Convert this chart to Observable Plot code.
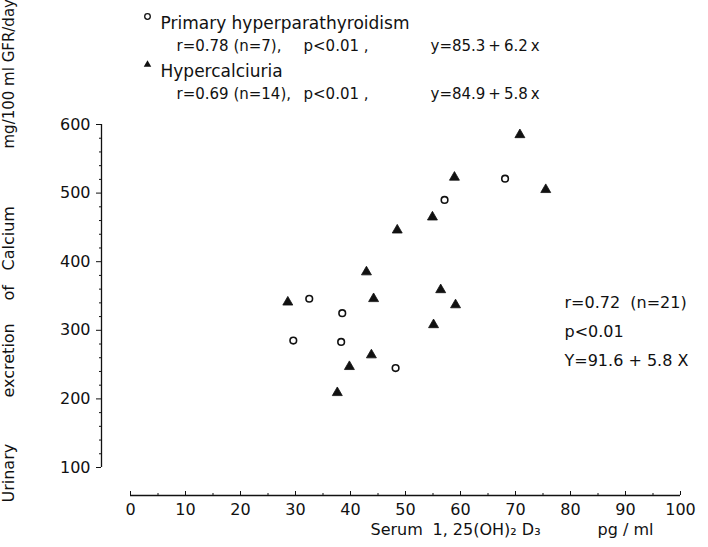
<!DOCTYPE html>
<html><head><meta charset="utf-8">
<script src="https://cdn.jsdelivr.net/npm/d3@7"></script>
<script src="https://cdn.jsdelivr.net/npm/@observablehq/plot@0.6"></script>
<style>body{margin:0;background:#fff}</style>
</head><body><div id="chart"></div>
<script>
// Primary hyperparathyroidism (open circles)
const hpX = [32.5, 29.6, 38.5, 38.3, 48.2, 57.1, 68.1];
const hpY = [346, 285, 325, 283, 245, 490, 521];
// Hypercalciuria (filled triangles)
const hcX = [28.6, 37.6, 39.8, 42.9, 44.2, 43.8, 48.5, 54.9, 55.1, 56.4, 59.1, 58.9, 70.8, 75.5];
const hcY = [341, 209, 247, 385, 346, 264, 446, 465, 308, 359, 337, 523, 585, 505];
// ticks
const xTicks = [0, 10, 20, 30, 40, 50, 60, 70, 80, 90, 100];
const xMinor = [5, 15, 25, 35, 45, 55, 65, 75, 85, 95];
const yTicks = [100, 200, 300, 400, 500, 600];
const yMinor = [120, 140, 160, 180, 220, 240, 260, 280, 320, 340, 360, 380, 420, 440, 460, 480, 520, 540, 560, 580];
// texts
const legendNames = ["Primary hyperparathyroidism", "Hypercalciuria"];
const legendR = ["r=0.78 (n=7),", "r=0.69 (n=14),"];
const legendP = ["p<0.01 ,", "p<0.01 ,"];
const legendEq = ["y=85.3\u2009+\u20096.2\u2009x", "y=84.9\u2009+\u20095.8\u2009x"];
const overall = ["r=0.72  (n=21)", "p<0.01", "Y=91.6 + 5.8 X"];
const yTitle = ["Urinary", "excretion", "of", "Calcium", "mg/100 ml GFR/day"];
const xTitle = ["Serum", "1, 25(OH)\u2082 D\u2083", "pg / ml"];

const hp = hpX.map((x, i) => ({x, y: hpY[i]}));
const hc = hcX.map((x, i) => ({x, y: hcY[i]}));
const ink = "#111";
const F = 16;
const FL = 15;

const txt = (s, o) => Plot.text([s], {text: d => d, fill: ink, fontSize: F, ...o});

const plot = Plot.plot({
  width: 708, height: 547,
  marginLeft: 130, marginRight: 28, marginTop: 124, marginBottom: 80,
  style: {fontFamily: "DejaVu Sans", fontSize: "16px", color: ink, background: "#fff"},
  x: {domain: [0, 100]},
  y: {domain: [100, 600]},
  marks: [
    // y axis
    Plot.ruleX([0], {dx: -29, stroke: ink, strokeWidth: 1.3}),
    Plot.axisY({ticks: yTicks, tickSize: 5, tickPadding: 6, dx: -29, fontSize: F, stroke: ink, fill: ink, label: null, tickFormat: d => d}),
    Plot.axisY({ticks: yMinor, tickSize: 2, text: null, dx: -29, stroke: ink, label: null}),
    // x axis
    Plot.ruleY([100], {dy: 28, stroke: ink, strokeWidth: 1.3}),
    Plot.axisX({ticks: xTicks, tickSize: -4, text: null, dy: 28, stroke: ink, label: null}),
    Plot.axisX({ticks: xMinor, tickSize: -2, text: null, dy: 28, stroke: ink, label: null}),
    Plot.axisX({ticks: xTicks, tickSize: 0, tickPadding: 8, dy: 28, fontSize: F, fill: ink, label: null, tickFormat: d => d}),
    // points
    Plot.dot(hp, {x: "x", y: "y", symbol: "circle", r: 3.3, stroke: ink, strokeWidth: 1.6, fill: "white"}),
    Plot.dot(hc, {x: "x", y: "y", symbol: "triangle", r: 3.7, fill: ink, stroke: ink, strokeWidth: 0.8}),
    // legend
    Plot.dot([0], {frameAnchor: "top-left", dx: 17, dy: -108, symbol: "circle", r: 2.8, stroke: ink, strokeWidth: 1.3, fill: "white"}),
    txt(legendNames[0], {frameAnchor: "top-left", textAnchor: "start", dx: 30, dy: -108, fontSize: 17}),
    txt(legendR[0], {frameAnchor: "top-left", textAnchor: "start", dx: 46, dy: -84, fontSize: FL}),
    txt(legendP[0], {frameAnchor: "top-left", textAnchor: "start", dx: 173, dy: -84, fontSize: FL}),
    txt(legendEq[0], {frameAnchor: "top-left", textAnchor: "start", dx: 300, dy: -84, fontSize: FL}),
    Plot.dot([0], {frameAnchor: "top-left", dx: 17, dy: -60, symbol: "triangle", r: 2.8, fill: ink}),
    txt(legendNames[1], {frameAnchor: "top-left", textAnchor: "start", dx: 30, dy: -60, fontSize: 17}),
    txt(legendR[1], {frameAnchor: "top-left", textAnchor: "start", dx: 46, dy: -36, fontSize: FL}),
    txt(legendP[1], {frameAnchor: "top-left", textAnchor: "start", dx: 173, dy: -36, fontSize: FL}),
    txt(legendEq[1], {frameAnchor: "top-left", textAnchor: "start", dx: 300, dy: -36, fontSize: FL}),
    // overall stats
    txt(overall[0], {frameAnchor: "top-left", textAnchor: "start", dx: 434, dy: 172}),
    txt(overall[1], {frameAnchor: "top-left", textAnchor: "start", dx: 434, dy: 201}),
    txt(overall[2], {frameAnchor: "top-left", textAnchor: "start", dx: 434, dy: 230}),
    // y title
    txt(yTitle[0], {frameAnchor: "bottom-left", textAnchor: "start", rotate: -90, dx: -117, dy: 35}),
    txt(yTitle[1], {frameAnchor: "bottom-left", textAnchor: "start", rotate: -90, dx: -117, dy: -70}),
    txt(yTitle[2], {frameAnchor: "bottom-left", textAnchor: "start", rotate: -90, dx: -117, dy: -167}),
    txt(yTitle[3], {frameAnchor: "bottom-left", textAnchor: "start", rotate: -90, dx: -117, dy: -197}),
    txt(yTitle[4], {frameAnchor: "bottom-left", textAnchor: "start", rotate: -90, dx: -117, dy: -319, fontSize: 15}),
    // x title
    txt(xTitle[0], {frameAnchor: "bottom-left", textAnchor: "start", dx: 240, dy: 67}),
    txt(xTitle[1], {frameAnchor: "bottom-left", textAnchor: "start", dx: 302, dy: 67}),
    txt(xTitle[2], {frameAnchor: "bottom-left", textAnchor: "start", dx: 467, dy: 67})
  ]
});
document.getElementById("chart").appendChild(plot);
</script>
</body></html>
